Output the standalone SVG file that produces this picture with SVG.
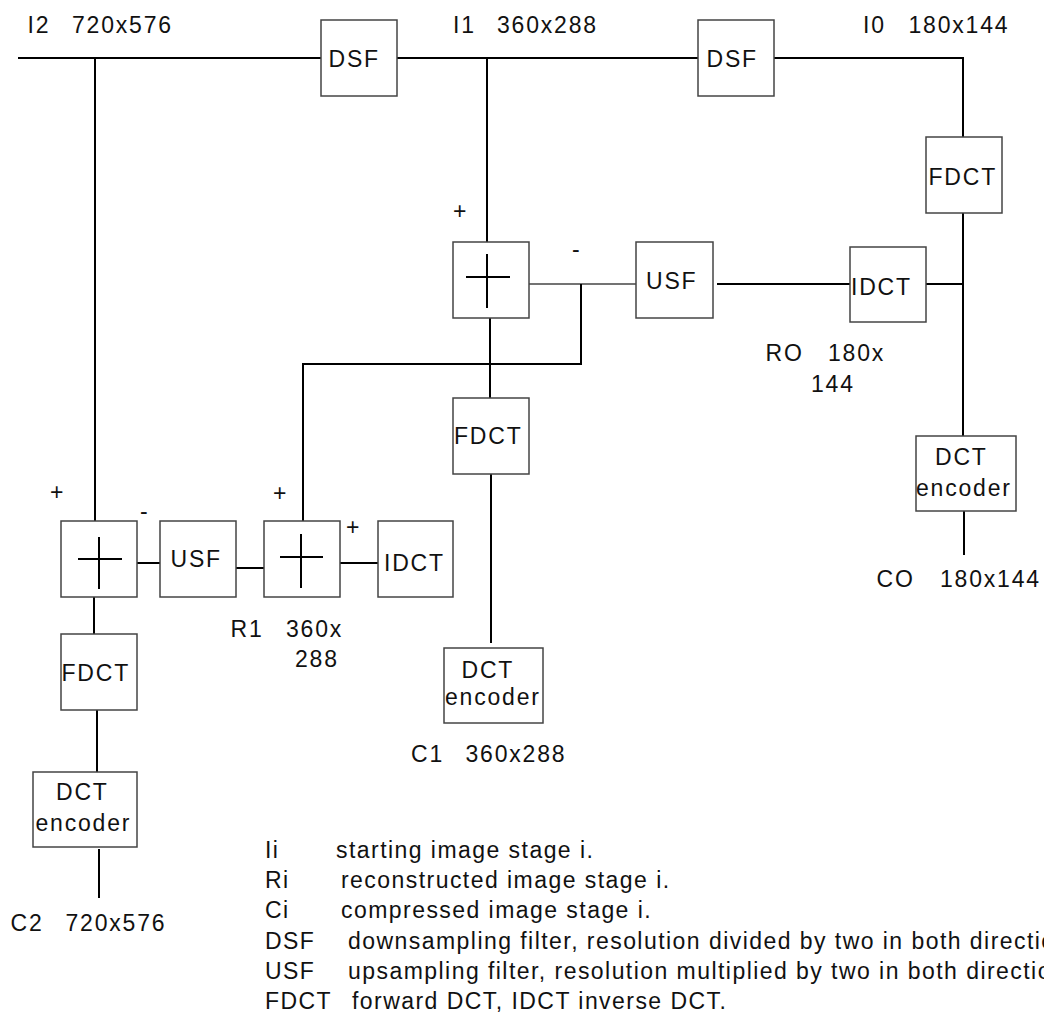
<svg xmlns="http://www.w3.org/2000/svg" width="1044" height="1018" viewBox="0 0 1044 1018">
<style>
.bg{fill:#ffffff}
.box{fill:#ffffff;stroke:#444444;stroke-width:1.5}
.wire{fill:none;stroke:#000000;stroke-width:2}
.thin{fill:none;stroke:#444444;stroke-width:1.4}
.cross{fill:none;stroke:#000000;stroke-width:2}
text{font-family:"Liberation Sans",Arial,sans-serif;font-size:23px;letter-spacing:1.8px;fill:#111111}
.sign{letter-spacing:0}
.leg{letter-spacing:1.45px}
</style>
<rect class="bg" x="0" y="0" width="1044" height="1018"/>
<g id="connectors">
<path class="wire" d="M18,58 H321"/>
<path class="wire" d="M397,58 H698"/>
<path class="wire" d="M774,58 H963 V137"/>
<path class="wire" d="M95,58 V521"/>
<path class="wire" d="M487,58 V242"/>
<path class="wire" d="M963,213 V436"/>
<path class="wire" d="M926,284 H963"/>
<path class="wire" d="M717,284 H850"/>
<path class="thin" d="M529,284 H636"/>
<path class="wire" d="M581,284 V364 H303 V521"/>
<path class="wire" d="M490,317 V398"/>
<path class="wire" d="M491,473 V643"/>
<path class="wire" d="M964,511 V555"/>
<path class="wire" d="M137,563 H160"/>
<path class="wire" d="M236,568 H265"/>
<path class="wire" d="M340,563 H378"/>
<path class="wire" d="M94,597 V634"/>
<path class="wire" d="M97,710 V772"/>
<path class="wire" d="M99,849 V898"/>
</g>
<g id="dsf1"><rect class="box" x="321" y="20" width="76" height="76"/><text x="328.5" y="67">DSF</text></g>
<g id="dsf2"><rect class="box" x="698" y="20" width="76" height="76"/><text x="706.5" y="67">DSF</text></g>
<g id="fdct0"><rect class="box" x="926" y="137" width="76" height="76"/><text x="928.5" y="185">FDCT</text></g>
<g id="idct0"><rect class="box" x="850" y="247" width="76" height="75"/><text x="851" y="295">IDCT</text></g>
<g id="adder1"><rect class="box" x="453" y="242" width="76" height="76"/><path class="cross" d="M466,277 H510 M487,254 V308"/></g>
<g id="usf1"><rect class="box" x="636" y="242" width="77" height="76"/><text x="646" y="289">USF</text></g>
<g id="fdct1"><rect class="box" x="453" y="398" width="76" height="76"/><text x="454" y="444">FDCT</text></g>
<g id="enc1"><rect class="box" x="444" y="648" width="99" height="75"/><text x="461.5" y="678">DCT</text><text x="445" y="705">encoder</text></g>
<g id="enc0"><rect class="box" x="916" y="436" width="100" height="75"/><text x="935" y="465">DCT</text><text x="916" y="496">encoder</text></g>
<g id="adder2"><rect class="box" x="61" y="521" width="76" height="76"/><path class="cross" d="M78,559 H122 M99,537 V589"/></g>
<g id="usf2"><rect class="box" x="160" y="521" width="76" height="76"/><text x="170.5" y="567">USF</text></g>
<g id="adder3"><rect class="box" x="264" y="521" width="76" height="76"/><path class="cross" d="M280,557 H323 M301,534 V588"/></g>
<g id="idct1"><rect class="box" x="378" y="521" width="75" height="76"/><text x="384" y="571">IDCT</text></g>
<g id="fdct2"><rect class="box" x="61" y="634" width="76" height="76"/><text x="61.5" y="681">FDCT</text></g>
<g id="enc2"><rect class="box" x="33" y="772" width="104" height="75"/><text x="56" y="800">DCT</text><text x="35.5" y="831">encoder</text></g>
<g id="labels">
<text y="33"><tspan x="27.5">I2</tspan><tspan x="72">720x576</tspan></text>
<text y="33"><tspan x="453">I1</tspan><tspan x="497">360x288</tspan></text>
<text y="33"><tspan x="863">I0</tspan><tspan x="908.5">180x144</tspan></text>
<text class="sign" x="453" y="219">+</text>
<text class="sign" x="572" y="257">-</text>
<text class="sign" x="50" y="500">+</text>
<text class="sign" x="140" y="519">-</text>
<text class="sign" x="273" y="501">+</text>
<text class="sign" x="346" y="535">+</text>
<text y="361"><tspan x="765.5">RO</tspan><tspan x="828">180x</tspan></text>
<text x="811" y="392">144</text>
<text y="637"><tspan x="230.5">R1</tspan><tspan x="286">360x</tspan></text>
<text x="295" y="667">288</text>
<text y="762"><tspan x="411">C1</tspan><tspan x="465.5">360x288</tspan></text>
<text y="931"><tspan x="10.5">C2</tspan><tspan x="65.5">720x576</tspan></text>
<text y="587"><tspan x="876.5">CO</tspan><tspan x="940">180x144</tspan></text>
</g>
<g id="legend">
<text class="leg" y="858"><tspan x="265">Ii</tspan><tspan x="336">starting image stage i.</tspan></text>
<text class="leg" y="888"><tspan x="265">Ri</tspan><tspan x="341">reconstructed image stage i.</tspan></text>
<text class="leg" y="918"><tspan x="265">Ci</tspan><tspan x="341">compressed image stage i.</tspan></text>
<text class="leg" y="949"><tspan x="265">DSF</tspan><tspan x="348">downsampling filter, resolution divided by two in both directions.</tspan></text>
<text class="leg" y="979"><tspan x="265">USF</tspan><tspan x="348">upsampling filter, resolution multiplied by two in both directions.</tspan></text>
<text class="leg" y="1009"><tspan x="265">FDCT</tspan><tspan x="352">forward DCT, IDCT inverse DCT.</tspan></text>
</g>
</svg>
